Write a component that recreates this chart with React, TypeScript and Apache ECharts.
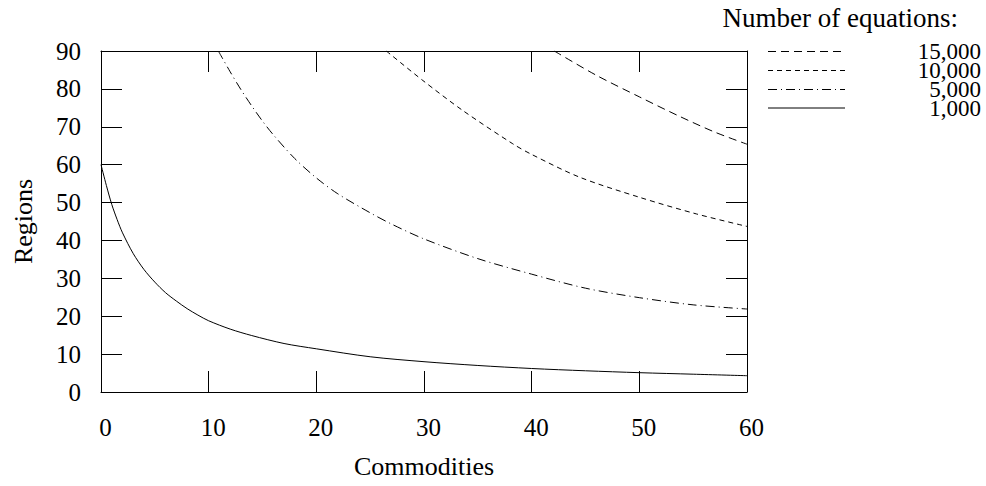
import React, { useEffect, useRef } from "react";
import * as echarts from "echarts";

// Commodities (x) and Regions (y)
const c1000 = [0, 0.5, 1, 1.5, 2, 3, 4, 5, 6, 7, 8, 9, 10, 12, 14, 17, 20, 25, 30, 35, 40, 45, 50, 55, 60];
const r1000 = [60, 54.5, 49.5, 45.5, 42, 36.5, 32.3, 29, 26.2, 24, 22, 20.3, 18.8, 16.6, 14.9, 12.8, 11.4, 9.3, 8.0, 7.0, 6.2, 5.6, 5.1, 4.7, 4.3];

const c5000 = [10.9, 12, 13, 14, 15, 16, 18, 20, 22, 25, 27, 30, 35, 40, 45, 50, 55, 60];
const r5000 = [90, 84.5, 79.8, 75.5, 71.5, 67.9, 61.6, 56.5, 52.3, 47.3, 44.3, 40.4, 35.2, 31.1, 27.4, 24.9, 23.0, 21.9];

const c10000 = [26.5, 29.9, 33.6, 38.25, 40, 44.45, 50, 55.3, 60];
const r10000 = [90, 82.2, 74.3, 65.5, 62.7, 56.7, 51.4, 47, 43.7];

const c15000 = [42.1, 46, 50, 53.7, 57, 60];
const r15000 = [90, 83.6, 77.9, 72.8, 68.6, 65.4];

const seriesNames = ["15,000", "10,000", "5,000", "1,000"];
const legendTitle = "Number of equations:";
const xTicks = { min: 0, max: 60, interval: 10 };
const yTicks = { min: 0, max: 90, interval: 10 };

const zip = (xs: number[], ys: number[]) => xs.map((x, i) => [x, ys[i]]);

const FONT = "Liberation Serif";
const FS = 25;

export default function App() {
  const ref = useRef<HTMLDivElement>(null);
  useEffect(() => {
    if (!ref.current) return;
    const chart = echarts.init(ref.current, undefined, { renderer: "svg" });
    const tickStyle = { show: true, inside: true, length: 21, lineStyle: { color: "#000", width: 1 } };
    const axisLine = { show: true, onZero: false, lineStyle: { color: "#000", width: 1 } };
    const dashes: any[] = [[8, 5], [5, 4], [9, 4, 1, 4], "solid"];
    const mkLine = (name: string, data: number[][], type: any) => ({
      name,
      type: "line",
      data,
      symbol: "none",
      smooth: 0.3,
      clip: true,
      lineStyle: { color: "#000", width: 1, type },
      itemStyle: { color: "#000" },
      xAxisIndex: 0,
      yAxisIndex: 0,
    });
    const rowY = [51.5, 70.5, 89.5, 108];
    const legendGraphics: any[] = [
      {
        type: "text",
        x: 958,
        y: 18,
        style: {
          text: legendTitle,
          font: `27px "${FONT}"`,
          fill: "#000",
          align: "right",
          verticalAlign: "middle",
          lineHeight: 19,
        },
      },
    ];
    seriesNames.forEach((n, i) => {
      legendGraphics.push({
        type: "line",
        shape: { x1: 768, y1: rowY[i], x2: 845, y2: rowY[i] },
        style: { stroke: "#000", lineWidth: 1, lineDash: dashes[i] === "solid" ? null : dashes[i] },
      });
      legendGraphics.push({
        type: "text",
        x: 981,
        y: rowY[i],
        style: {
          text: n,
          font: `23px "${FONT}"`,
          fill: "#000",
          align: "right",
          verticalAlign: "middle",
          lineHeight: 16,
        },
      });
    });
    chart.setOption({
      animation: false,
      textStyle: { fontFamily: FONT, color: "#000" },
      graphic: legendGraphics,
      grid: { left: 101, right: 239, top: 51, bottom: 94, containLabel: false },
      xAxis: [
        {
          type: "value",
          position: "bottom",
          ...xTicks,
          name: "Commodities",
          nameLocation: "middle",
          nameGap: 61,
          nameTextStyle: { fontFamily: FONT, fontSize: 26, color: "#000" },
          axisLine,
          axisTick: tickStyle,
          splitLine: { show: false },
          axisLabel: { fontFamily: FONT, fontSize: FS, color: "#000", margin: 23, padding: [0, 0, 0, 9] },
        },
        {
          type: "value",
          position: "top",
          ...xTicks,
          axisLine,
          axisTick: tickStyle,
          splitLine: { show: false },
          axisLabel: { show: false },
        },
      ],
      yAxis: [
        {
          type: "value",
          position: "left",
          ...yTicks,
          name: "Regions",
          nameLocation: "middle",
          nameGap: 65,
          nameTextStyle: { fontFamily: FONT, fontSize: 26, color: "#000" },
          axisLine,
          axisTick: tickStyle,
          splitLine: { show: false },
          axisLabel: { fontFamily: FONT, fontSize: FS, color: "#000", margin: 20, lineHeight: 20 },
        },
        {
          type: "value",
          position: "right",
          ...yTicks,
          axisLine,
          axisTick: tickStyle,
          splitLine: { show: false },
          axisLabel: { show: false },
        },
      ],
      series: [
        mkLine(seriesNames[0], zip(c15000, r15000), dashes[0]),
        mkLine(seriesNames[1], zip(c10000, r10000), dashes[1]),
        mkLine(seriesNames[2], zip(c5000, r5000), dashes[2]),
        mkLine(seriesNames[3], zip(c1000, r1000), dashes[3]),
      ],
    });
    return () => chart.dispose();
  }, []);
  return <div ref={ref} style={{ width: 986, height: 486, position: "absolute", left: 0, top: 0 }} />;
}
